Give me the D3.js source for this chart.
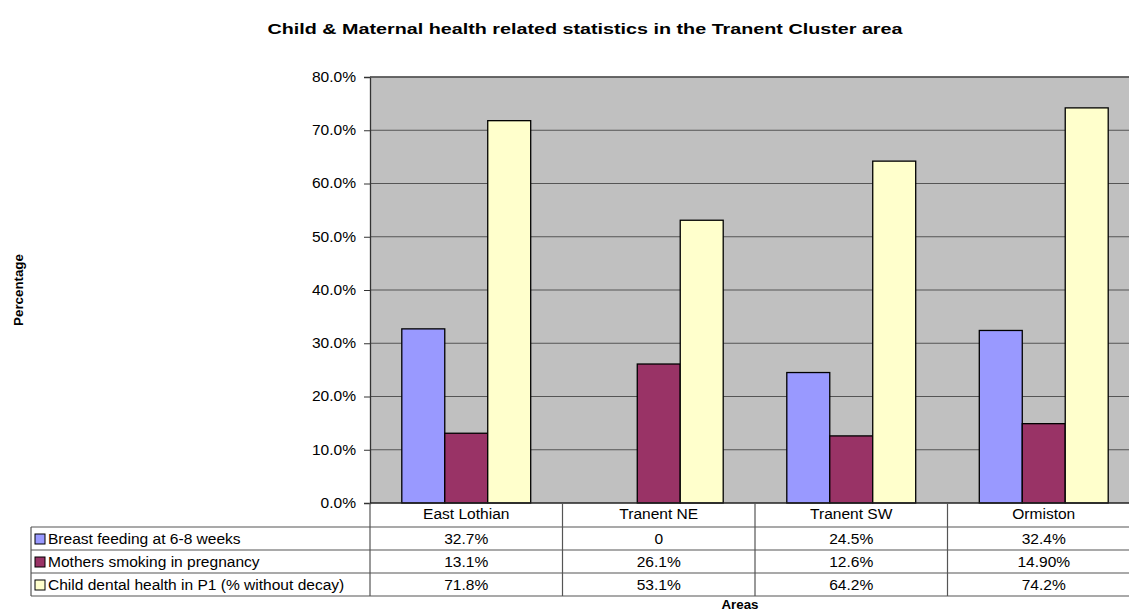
<!DOCTYPE html>
<html>
<head>
<meta charset="utf-8">
<script src="https://cdn.jsdelivr.net/npm/d3@7"></script>
<style>
  body { margin: 0; background: #fff; }
  text { font-family: "Liberation Sans", Arial, sans-serif; fill: #000; }
</style>
</head>
<body>
<div id="chart"></div>
<script>

// data
const AREAS = ["East Lothian", "Tranent NE", "Tranent SW", "Ormiston"];
const SERIES = ["Breast feeding at 6-8 weeks", "Mothers smoking in pregnancy",
                "Child dental health in P1 (% without decay)"];
const BREAST = [32.7, 0, 24.5, 32.4];
const SMOKING = [13.1, 26.1, 12.6, 14.9];
const DENTAL = [71.8, 53.1, 64.2, 74.2];
// labels as printed in the data table
const BREAST_LBL = ["32.7%", "0", "24.5%", "32.4%"];
const SMOKING_LBL = ["13.1%", "26.1%", "12.6%", "14.90%"];
const DENTAL_LBL = ["71.8%", "53.1%", "64.2%", "74.2%"];
const Y_TICKS = [0, 10, 20, 30, 40, 50, 60, 70, 80];
const COLORS = ["#9999FF", "#993366", "#FFFFCC"];

const FRAME_WIDTH = 1129;
const FRAME_HEIGHT = 613;
const PLOT = {left: 370, right: 1140, top: 77, bottom: 503};
const ROW_H = 23;
// the original text is drawn a bit wider than Arial
const STRETCH = 1.11;

const VALUES = [BREAST, SMOKING, DENTAL];
const LABELS = [BREAST_LBL, SMOKING_LBL, DENTAL_LBL];

const FRAME = d3.select("#chart")
                .append("svg")
                  .attr("width", FRAME_WIDTH)
                  .attr("height", FRAME_HEIGHT);

const X_SCALE = d3.scaleBand()
                  .domain(AREAS)
                  .range([PLOT.left, PLOT.right]);

const X_INNER = d3.scaleBand()
                  .domain(d3.range(SERIES.length))
                  .range([0, X_SCALE.bandwidth()])
                  .paddingOuter(0.74);

const Y_SCALE = d3.scaleLinear()
                  .domain([0, 80])
                  .range([PLOT.bottom, PLOT.top]);

// plot background
FRAME.append("rect")
  .attr("x", PLOT.left)
  .attr("y", PLOT.top)
  .attr("width", PLOT.right - PLOT.left)
  .attr("height", PLOT.bottom - PLOT.top)
  .attr("fill", "#C0C0C0");

// gridlines
FRAME.append("g")
  .selectAll("line")
  .data(Y_TICKS.slice(1))
  .enter()
  .append("line")
    .attr("x1", PLOT.left)
    .attr("x2", PLOT.right)
    .attr("y1", (d) => Y_SCALE(d))
    .attr("y2", (d) => Y_SCALE(d))
    .attr("stroke", "#555")
    .attr("stroke-width", 1.2);

// bars
const groups = FRAME.append("g")
  .selectAll("g")
  .data(VALUES)
  .enter()
  .append("g")
    .attr("fill", (d, i) => COLORS[i]);

groups.each(function(vals, si) {
  d3.select(this).selectAll("rect")
    .data(vals.map((v, i) => ({area: AREAS[i], v: v})).filter((d) => d.v > 0))
    .enter()
    .append("rect")
      .attr("x", (d) => X_SCALE(d.area) + X_INNER(si))
      .attr("y", (d) => Y_SCALE(d.v))
      .attr("width", X_INNER.bandwidth())
      .attr("height", (d) => Y_SCALE(0) - Y_SCALE(d.v))
      .attr("stroke", "#000")
      .attr("stroke-width", 1.3);
});

// y axis
const Y_AXIS = FRAME.append("g")
  .attr("transform", "translate(" + PLOT.left + ",0)")
  .call(d3.axisLeft(Y_SCALE)
          .tickValues(Y_TICKS)
          .tickSize(6)
          .tickPadding(8)
          .tickFormat((d) => d.toFixed(1) + "%"));
Y_AXIS.selectAll("text")
  .attr("font-size", "14px")
  .attr("font-family", "'Liberation Sans', Arial, sans-serif");
Y_AXIS.selectAll("line").attr("stroke", "#333");
Y_AXIS.select(".domain").attr("stroke", "#333").attr("stroke-width", 1.3);

// top border of plot
FRAME.append("line")
  .attr("x1", PLOT.left).attr("x2", PLOT.right)
  .attr("y1", PLOT.top).attr("y2", PLOT.top)
  .attr("stroke", "#555").attr("stroke-width", 1.5);

// data table
const TABLE = FRAME.append("g");
const TABLE_LEFT = 31;
const rowY = (r) => PLOT.bottom + ROW_H * (r + 1) + 1;

// horizontal rules
TABLE.selectAll(".hrule")
  .data(d3.range(SERIES.length + 1))
  .enter()
  .append("line")
    .attr("x1", TABLE_LEFT)
    .attr("x2", PLOT.right)
    .attr("y1", (d) => rowY(d))
    .attr("y2", (d) => rowY(d))
    .attr("stroke", "#555")
    .attr("stroke-width", 1.2);

// bottom axis line
TABLE.append("line")
  .attr("x1", PLOT.left).attr("x2", PLOT.right)
  .attr("y1", PLOT.bottom).attr("y2", PLOT.bottom)
  .attr("stroke", "#222").attr("stroke-width", 1.5);

// vertical rules
TABLE.selectAll(".vrule")
  .data(AREAS.concat(["end"]))
  .enter()
  .append("line")
    .attr("x1", (d, i) => PLOT.left + i * X_SCALE.bandwidth())
    .attr("x2", (d, i) => PLOT.left + i * X_SCALE.bandwidth())
    .attr("y1", PLOT.bottom)
    .attr("y2", rowY(SERIES.length))
    .attr("stroke", "#555")
    .attr("stroke-width", 1.2);

TABLE.append("line")
  .attr("x1", TABLE_LEFT).attr("x2", TABLE_LEFT)
  .attr("y1", rowY(0)).attr("y2", rowY(SERIES.length))
  .attr("stroke", "#555").attr("stroke-width", 1.2);

// category header
TABLE.selectAll(".cat")
  .data(AREAS)
  .enter()
  .append("text")
    .attr("x", (d) => X_SCALE(d) + X_SCALE.bandwidth() / 2)
    .attr("y", PLOT.bottom + 16)
    .attr("text-anchor", "middle")
    .attr("font-size", "14px")
    .text((d) => d);

// legend keys and names
TABLE.selectAll(".key")
  .data(SERIES)
  .enter()
  .append("rect")
    .attr("x", TABLE_LEFT + 4)
    .attr("y", (d, i) => rowY(i) + 7)
    .attr("width", 10)
    .attr("height", 10)
    .attr("fill", (d, i) => COLORS[i])
    .attr("stroke", "#000")
    .attr("stroke-width", 1);

TABLE.selectAll(".name")
  .data(SERIES)
  .enter()
  .append("text")
    .attr("x", TABLE_LEFT + 17)
    .attr("y", (d, i) => rowY(i) + 17)
    .attr("font-size", "14px")
    .text((d) => d);

// cell values
LABELS.forEach((row, r) => {
  TABLE.selectAll(".cell" + r)
    .data(row)
    .enter()
    .append("text")
      .attr("x", (d, i) => X_SCALE(AREAS[i]) + X_SCALE.bandwidth() / 2)
      .attr("y", rowY(r) + 17)
      .attr("text-anchor", "middle")
      .attr("font-size", "14px")
      .text((d) => d);
});

// axis titles
FRAME.append("text")
  .attr("transform", "translate(23,290) rotate(-90)")
  .attr("text-anchor", "middle")
  .attr("font-size", "12px")
  .attr("font-weight", "bold")
  .text("Percentage");

FRAME.append("text")
  .attr("x", 740)
  .attr("y", 609)
  .attr("text-anchor", "middle")
  .attr("font-size", "12px")
  .attr("font-weight", "bold")
  .text("Areas");

// widen all text to match the original rendering
FRAME.selectAll("text").each(function() {
  const w = this.getComputedTextLength();
  d3.select(this)
    .attr("textLength", w * STRETCH)
    .attr("lengthAdjust", "spacingAndGlyphs");
});

// title
FRAME.append("text")
  .attr("x", 585)
  .attr("y", 34)
  .attr("text-anchor", "middle")
  .attr("font-size", "15px")
  .attr("font-weight", "bold")
  .attr("textLength", 635)
  .attr("lengthAdjust", "spacingAndGlyphs")
  .text("Child & Maternal health related statistics in the Tranent Cluster area");

</script>
</body>
</html>
